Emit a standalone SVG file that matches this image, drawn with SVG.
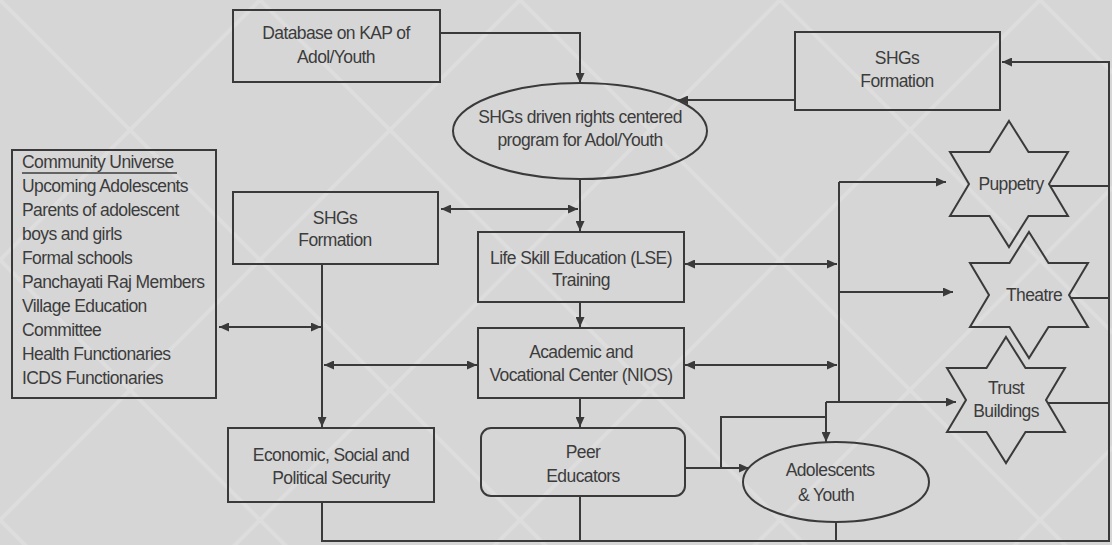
<svg xmlns="http://www.w3.org/2000/svg" width="1112" height="545" viewBox="0 0 1112 545">
<style>
.bx{fill:none;stroke:#3a3a3a;stroke-width:2}
.t{font-family:"Liberation Sans",Arial,sans-serif;font-size:17.5px;letter-spacing:-0.6px;fill:#3c3c3c;text-anchor:middle}
.tl{font-family:"Liberation Sans",Arial,sans-serif;font-size:17.5px;letter-spacing:-0.6px;fill:#3c3c3c}
.c{fill:none;stroke:#3a3a3a;stroke-width:2}
</style>
<defs>
<marker id="ah" markerUnits="userSpaceOnUse" markerWidth="11" markerHeight="9" refX="10" refY="4.5" orient="auto-start-reverse"><path d="M0,0 L10,4.5 L0,9 z" fill="#3a3a3a"/></marker>
<path id="star" d="M0,-63 L19.5,-32 L59,-32 L40,0 L59,32 L19.5,32 L0,63 L-19.5,32 L-59,32 L-40,0 L-59,-32 L-19.5,-32 Z"/>
<pattern id="lat" patternUnits="userSpaceOnUse" width="260" height="260">
<path d="M0,0 L260,260 M260,0 L0,260" stroke="#e6e6e6" stroke-width="4" opacity="0.45"/>
</pattern>
</defs>
<rect width="1112" height="545" fill="#d6d6d6"/>
<rect width="1112" height="545" fill="url(#lat)"/>

<g id="connectors">
<path class="c" d="M440,33 H580 V83" marker-end="url(#ah)"/>
<path class="c" d="M795,100 H678" marker-end="url(#ah)"/>
<path class="c" d="M441,209 H578" marker-start="url(#ah)" marker-end="url(#ah)"/>
<path class="c" d="M580,179 V231" marker-end="url(#ah)"/>
<path class="c" d="M322,264 V427" marker-end="url(#ah)"/>
<path class="c" d="M219,327 H321" marker-start="url(#ah)" marker-end="url(#ah)"/>
<path class="c" d="M324,365 H477" marker-start="url(#ah)" marker-end="url(#ah)"/>
<path class="c" d="M580,302 V327" marker-end="url(#ah)"/>
<path class="c" d="M580,398 V427" marker-end="url(#ah)"/>
<path class="c" d="M685,264 H837" marker-start="url(#ah)" marker-end="url(#ah)"/>
<path class="c" d="M685,365 H837" marker-start="url(#ah)" marker-end="url(#ah)"/>
<path class="c" d="M839,182 V402"/>
<path class="c" d="M839,182 H946" marker-end="url(#ah)"/>
<path class="c" d="M839,292 H953" marker-end="url(#ah)"/>
<path class="c" d="M826,402 H956" marker-end="url(#ah)"/>
<path class="c" d="M826,402 V442" marker-end="url(#ah)"/>
<path class="c" d="M721,468 V417 H826"/>
<path class="c" d="M685,468 H749" marker-end="url(#ah)"/>
<path class="c" d="M322,502 V541 H1109 V62 H1002" marker-end="url(#ah)"/>
<path class="c" d="M580,496 V541"/>
<path class="c" d="M836,522 V541"/>
<path class="c" d="M1051,186 H1109"/>
<path class="c" d="M1071,298 H1109"/>
<path class="c" d="M1048,403 H1109"/>
</g>

<g id="database">
<rect class="bx" x="233" y="10" width="207" height="72"/>
<text class="t" x="336" y="39">Database on KAP of</text>
<text class="t" x="336" y="63">Adol/Youth</text>
</g>
<g id="shgs-top">
<rect class="bx" x="795" y="32" width="205" height="78"/>
<text class="t" x="897" y="64">SHGs</text>
<text class="t" x="897" y="87">Formation</text>
</g>
<g id="program">
<ellipse class="bx" cx="580" cy="131" rx="127" ry="48"/>
<text class="t" x="580" y="123">SHGs driven rights centered</text>
<text class="t" x="580" y="146">program for Adol/Youth</text>
</g>
<g id="community">
<rect class="bx" x="12" y="150" width="204" height="248"/>
<text class="tl" x="22" y="168">Community Universe</text>
<line x1="22" y1="173" x2="177" y2="173" stroke="#3c3c3c" stroke-width="1.5"/>
<text class="tl" x="22" y="192">Upcoming Adolescents</text>
<text class="tl" x="22" y="216">Parents of adolescent</text>
<text class="tl" x="22" y="240">boys and girls</text>
<text class="tl" x="22" y="264">Formal schools</text>
<text class="tl" x="22" y="288">Panchayati Raj Members</text>
<text class="tl" x="22" y="312">Village Education</text>
<text class="tl" x="22" y="336">Committee</text>
<text class="tl" x="22" y="360">Health Functionaries</text>
<text class="tl" x="22" y="384">ICDS Functionaries</text>
</g>
<g id="shgs-left">
<rect class="bx" x="233" y="192" width="205" height="72"/>
<text class="t" x="335" y="224">SHGs</text>
<text class="t" x="335" y="246">Formation</text>
</g>
<g id="lse">
<rect class="bx" x="478" y="232" width="206" height="70"/>
<text class="t" x="581" y="264">Life Skill Education (LSE)</text>
<text class="t" x="581" y="286">Training</text>
</g>
<g id="academic">
<rect class="bx" x="478" y="328" width="206" height="70"/>
<text class="t" x="581" y="358">Academic and</text>
<text class="t" x="581" y="381">Vocational Center (NIOS)</text>
</g>
<g id="economic">
<rect class="bx" x="228" y="428" width="206" height="74"/>
<text class="t" x="331" y="461">Economic, Social and</text>
<text class="t" x="331" y="484">Political Security</text>
</g>
<g id="peer">
<rect class="bx" x="481" y="428" width="204" height="68" rx="10"/>
<text class="t" x="583" y="458">Peer</text>
<text class="t" x="583" y="482">Educators</text>
</g>
<g id="adolescents">
<ellipse class="bx" cx="836" cy="482" rx="93" ry="40"/>
<text class="t" x="830" y="476">Adolescents</text>
<text class="t" x="826" y="501">&amp; Youth</text>
</g>
<g id="puppetry">
<use href="#star" x="1009" y="184" class="bx"/>
<text class="t" x="1011" y="190">Puppetry</text>
</g>
<g id="theatre">
<use href="#star" x="1029" y="295" class="bx"/>
<text class="t" x="1034" y="301">Theatre</text>
</g>
<g id="trust">
<use href="#star" x="1006" y="400" class="bx"/>
<text class="t" x="1006" y="394">Trust</text>
<text class="t" x="1006" y="417">Buildings</text>
</g>
</svg>
